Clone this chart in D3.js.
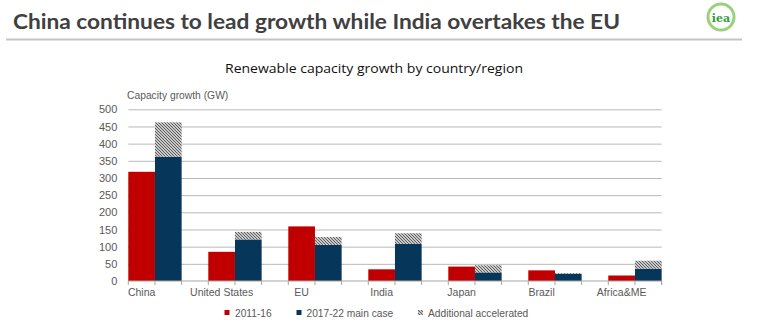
<!DOCTYPE html>
<html>
<head>
<meta charset="utf-8">
<script src="https://cdn.jsdelivr.net/npm/d3@7/dist/d3.min.js"></script>
<style>
  html, body { margin: 0; padding: 0; background: #ffffff; }
  svg { display: block; }
</style>
</head>
<body>
<svg id="chart" width="758" height="336"></svg>
<script>
// Renewable capacity growth (GW) by country/region
const categories = ["China", "United States", "EU", "India", "Japan", "Brazil", "Africa&ME"];
const growth2011_16 = [318, 85, 159, 34, 42, 31, 16];
const mainCase2017_22 = [362, 121, 105, 108, 25, 21, 36];
const additionalAccelerated = [100, 22, 23, 31, 21, 2, 23];
const seriesNames = ["2011-16", "2017-22 main case", "Additional accelerated"];
const yTicks = [0, 50, 100, 150, 200, 250, 300, 350, 400, 450, 500];

const RED = "#c00000";
const BLUE = "#06365a";
const TEXT = "#595959";
const GRID = "#b9b9b9";

const svg = d3.select("#chart");

// Hatch pattern for the accelerated case
const defs = svg.append("defs");
const pat = defs.append("pattern")
  .attr("id", "hatch")
  .attr("patternUnits", "userSpaceOnUse")
  .attr("width", 3).attr("height", 3);
pat.append("rect").attr("width", 3).attr("height", 3).attr("fill", "#ffffff");
pat.append("path")
  .attr("d", "M0,0 L3,3 M-1,2 L1,4 M2,-1 L4,1")
  .attr("stroke", "#555555").attr("stroke-width", 1.2);

// Header
svg.append("text")
  .attr("x", 13).attr("y", 29)
  .attr("font-family", "Lato, 'Open Sans', sans-serif")
  .attr("font-weight", 700)
  .attr("font-size", 21)
  .attr("fill", "#404040")
  .attr("textLength", 607).attr("lengthAdjust", "spacingAndGlyphs")
  .text("China continues to lead growth while India overtakes the EU");

svg.append("line")
  .attr("x1", 6).attr("x2", 742).attr("y1", 39.5).attr("y2", 39.5)
  .attr("stroke", "#c4c4c4").attr("stroke-width", 2);

// iea badge
const logo = svg.append("g").attr("transform", "translate(721,17)");
logo.append("circle").attr("r", 13).attr("fill", "#ffffff")
  .attr("stroke", "#9ad17c").attr("stroke-width", 3);
logo.append("text").attr("y", 4.5).attr("text-anchor", "middle")
  .attr("font-family", "'DejaVu Serif', serif").attr("font-weight", 700)
  .attr("font-size", 11).attr("fill", "#2f9a3a").text("iea");

// Chart title
svg.append("text")
  .attr("x", 374).attr("y", 73)
  .attr("text-anchor", "middle")
  .attr("font-family", "'Open Sans', sans-serif")
  .attr("font-size", 13.5)
  .attr("fill", "#111111")
  .attr("textLength", 298).attr("lengthAdjust", "spacingAndGlyphs")
  .text("Renewable capacity growth by country/region");

// Scales
const x0 = 128.3, step = 80;
const x = d3.scaleBand().domain(categories)
  .range([x0, x0 + step * categories.length]).padding(0);
const bw = x.bandwidth();
const xs = d3.scaleBand().domain([0, 1]).range([0, bw * 2 / 3]).padding(0);
const y = d3.scaleLinear().domain([0, 500]).range([281, 109.3]);
const plotRight = x(categories[categories.length - 1]) + bw * 2 / 3;

// Axis title
svg.append("text")
  .attr("x", 127).attr("y", 99)
  .attr("font-family", "'Liberation Sans', Arial, sans-serif")
  .attr("font-size", 10.3).attr("fill", TEXT)
  .text("Capacity growth (GW)");

// Gridlines and y labels
const yAxis = d3.axisLeft(y).tickValues(yTicks).tickSize(0).tickPadding(0);
const gy = svg.append("g").attr("transform", `translate(${x0},0)`).call(yAxis);
gy.select(".domain").remove();
gy.selectAll("text")
  .attr("x", -11)
  .attr("font-family", "'Liberation Sans', Arial, sans-serif")
  .attr("font-size", 11).attr("fill", TEXT);
gy.selectAll(".tick").filter(d => d !== 0).append("line")
  .attr("x1", 0).attr("x2", plotRight - x0)
  .attr("stroke", GRID).attr("stroke-width", 1);

// Bars
const rows = categories.map((c, i) => ({
  cat: c, a: growth2011_16[i], b: mainCase2017_22[i], extra: additionalAccelerated[i]
}));

const g = svg.append("g");
g.selectAll("rect.s1").data(rows).join("rect")
  .attr("class", "s1")
  .attr("x", d => x(d.cat) + xs(0)).attr("width", xs.bandwidth())
  .attr("y", d => y(d.a)).attr("height", d => y(0) - y(d.a))
  .attr("fill", RED);
g.selectAll("rect.s2").data(rows).join("rect")
  .attr("class", "s2")
  .attr("x", d => x(d.cat) + xs(1)).attr("width", xs.bandwidth())
  .attr("y", d => y(d.b)).attr("height", d => y(0) - y(d.b))
  .attr("fill", BLUE);
g.selectAll("rect.s3").data(rows).join("rect")
  .attr("class", "s3")
  .attr("x", d => x(d.cat) + xs(1)).attr("width", xs.bandwidth())
  .attr("y", d => y(d.b + d.extra)).attr("height", d => y(d.b) - y(d.b + d.extra))
  .attr("fill", "url(#hatch)");

// x axis line and slot ticks
const slot = bw / 3;
const tickXs = [];
categories.forEach(c => { for (let k = 0; k < 3; k++) tickXs.push(x(c) + k * slot); });
tickXs.push(plotRight);
const axisG = svg.append("g");
axisG.append("line")
  .attr("x1", x0).attr("x2", plotRight).attr("y1", y(0)).attr("y2", y(0))
  .attr("stroke", "#a6a6a6").attr("stroke-width", 1);
axisG.selectAll("line.tk").data(tickXs.filter(t => t <= plotRight + 0.1)).join("line")
  .attr("class", "tk")
  .attr("x1", d => d).attr("x2", d => d)
  .attr("y1", y(0)).attr("y2", y(0) + 4)
  .attr("stroke", "#a6a6a6").attr("stroke-width", 1);
axisG.selectAll("text.cl").data(categories).join("text")
  .attr("class", "cl")
  .attr("x", d => x(d) + bw / 6).attr("y", 296)
  .attr("text-anchor", "middle")
  .attr("font-family", "'Liberation Sans', Arial, sans-serif")
  .attr("font-size", 10.5).attr("fill", TEXT)
  .text(d => d);

// Legend
const legendItems = [
  { name: seriesNames[0], fill: RED, sx: 224.5, tx: 235 },
  { name: seriesNames[1], fill: BLUE, sx: 296.5, tx: 306.5 },
  { name: seriesNames[2], fill: "url(#hatch)", sx: 418, tx: 428 }
];
const lg = svg.append("g");
lg.selectAll("rect").data(legendItems).join("rect")
  .attr("x", d => d.sx).attr("y", 310).attr("width", 5).attr("height", 5)
  .attr("fill", d => d.fill);
lg.selectAll("text").data(legendItems).join("text")
  .attr("x", d => d.tx).attr("y", 317)
  .attr("font-family", "'Liberation Sans', Arial, sans-serif")
  .attr("font-size", 10.2).attr("fill", TEXT)
  .text(d => d.name);
</script>
</body>
</html>
